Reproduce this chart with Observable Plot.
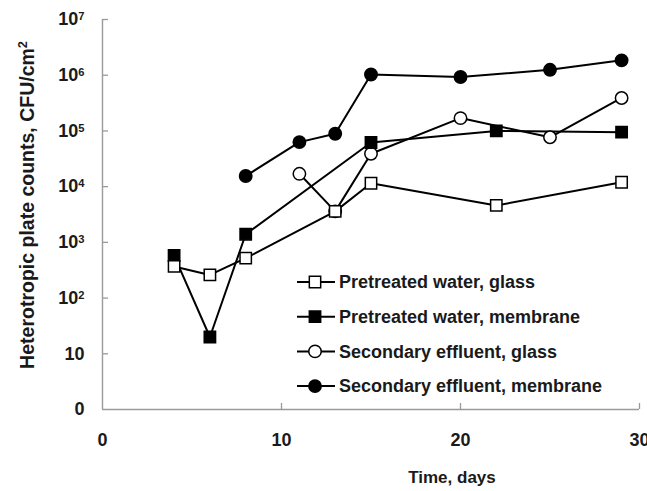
<!DOCTYPE html>
<html><head><meta charset="utf-8">
<script src="https://cdn.jsdelivr.net/npm/d3@7"></script>
<script src="https://cdn.jsdelivr.net/npm/@observablehq/plot@0.6"></script>
<style>
html,body{margin:0;padding:0;background:#fff;}
#chart{position:relative;width:647px;height:491px;overflow:hidden;}
</style></head><body><div id="chart"></div>
<script>
const seriesNames = ["Pretreated water, glass","Pretreated water, membrane","Secondary effluent, glass","Secondary effluent, membrane"];
const seriesSymbols = ["square","square","circle","circle"];
const seriesFills = ["white","black","white","black"];
const pwGlassDays = [4,6,8,13,15,22,29];
const pwGlassCounts = [370,260,520,3600,11500,4600,12000];
const pwMembraneDays = [4,6,8,15,22,29];
const pwMembraneCounts = [580,20,1400,62000,100000,95000];
const seGlassDays = [11,13,15,20,25,29];
const seGlassCounts = [17000,3600,39000,170000,77000,390000];
const seMembraneDays = [8,11,13,15,20,25,29];
const seMembraneCounts = [15500,63000,89000,1030000,930000,1250000,1850000];
const xTicks = [0,10,20,30];
const yTicks = [1,10,100,1e3,1e4,1e5,1e6,1e7];
const yTickLabels = ["0","10","10^2","10^3","10^4","10^5","10^6","10^7"];
const xTitle = "Time, days";
const yTitle = "Heterotropic plate counts, CFU/cm";
const yTitleSup = "2";

const allDays = [pwGlassDays,pwMembraneDays,seGlassDays,seMembraneDays];
const allCounts = [pwGlassCounts,pwMembraneCounts,seGlassCounts,seMembraneCounts];
const data = [];
seriesNames.forEach((s,i)=>allDays[i].forEach((d,j)=>data.push({series:s, idx:i, day:d, count:allCounts[i][j]})));

const font = "'Liberation Sans', Arial, Helvetica, sans-serif";
const ink = "#1a1a1a";
const axisGray = "#9a9a9a";

const dotOrder = [3,2,1,0];
const plot = Plot.plot({
  width:647, height:491, marginLeft:102, marginRight:8, marginTop:19, marginBottom:82,
  style:{fontFamily:font, fontWeight:"bold", fontSize:"18px", color:ink, background:"white", overflow:"visible"},
  x:{domain:[0,30], label:null},
  y:{type:"log", domain:[1,1e7], label:null},
  marks:[
    Plot.ruleX([0],{stroke:axisGray, strokeWidth:1.4}),
    Plot.ruleY([1],{stroke:axisGray, strokeWidth:1.4}),
    Plot.tickX(xTicks.slice(1),{x:d=>d, stroke:axisGray, strokeWidth:1.3, insetTop:384}),
    Plot.tickY(yTicks.slice(1),{y:d=>d, stroke:axisGray, strokeWidth:1.3, insetRight:531}),
    Plot.axisX({ticks:xTicks, tickSize:0, tickPadding:24, tickFormat:d=>String(d), fontSize:18, label:null}),
    Plot.axisY({ticks:yTicks, tickSize:0, tickPadding:18, tickFormat:d=>yTickLabels[yTicks.indexOf(d)], fontSize:18, label:null}),
    Plot.line(data,{x:"day", y:"count", z:"series", stroke:"black", strokeWidth:2}),
    ...dotOrder.map(i=>Plot.dot(data.filter(d=>d.idx===i),{x:"day", y:"count", symbol:()=>seriesSymbols[i], fill:seriesFills[i], stroke:"black", strokeWidth:1.5, r: seriesSymbols[i]==="square" ? 6.4 : 6.2}))
  ]
});
document.getElementById("chart").appendChild(plot);
const svg = d3.select(plot);

// superscript tick labels
svg.selectAll('g[aria-label="y-axis tick label"] text').each(function(){
  const t = d3.select(this); const s = t.text();
  if (s.includes("^")) {
    const [b,e] = s.split("^");
    t.text(b);
    t.append("tspan").attr("dy","-0.45em").attr("font-size","0.62em").text(e);
  }
});

// y title
const yt = svg.append("text")
  .attr("transform","translate(34,205) rotate(-90)")
  .attr("text-anchor","middle").attr("font-family",font).attr("font-weight","bold")
  .attr("font-size",19.5).attr("fill",ink).text(yTitle);
yt.append("tspan").attr("dy","-0.55em").attr("font-size","0.65em").text(yTitleSup);

// x title
svg.append("text").attr("x",452).attr("y",483).attr("text-anchor","middle")
  .attr("font-family",font).attr("font-weight","bold").attr("font-size",17).attr("fill",ink).text(xTitle);

// legend
const lg = svg.append("g").attr("font-family",font).attr("font-weight","bold").attr("font-size",18).attr("fill",ink).attr("text-anchor","start");
seriesNames.forEach((name,i)=>{
  const y = 282 + i*34.7;
  const g = lg.append("g").attr("transform",`translate(0,${y})`);
  g.append("line").attr("x1",297).attr("x2",335).attr("y1",0).attr("y2",0).attr("stroke","black").attr("stroke-width",2);
  const sym = seriesSymbols[i]==="square" ? d3.symbolSquare : d3.symbolCircle;
  const r = seriesSymbols[i]==="square" ? 6.4 : 6.2;
  g.append("path").attr("transform","translate(315,0)").attr("d",d3.symbol(sym, r*r*Math.PI)())
    .attr("fill",seriesFills[i]).attr("stroke","black").attr("stroke-width",1.5);
  g.append("text").attr("x",339).attr("dy","0.35em").attr("text-anchor","start").text(name);
});
</script></body></html>
